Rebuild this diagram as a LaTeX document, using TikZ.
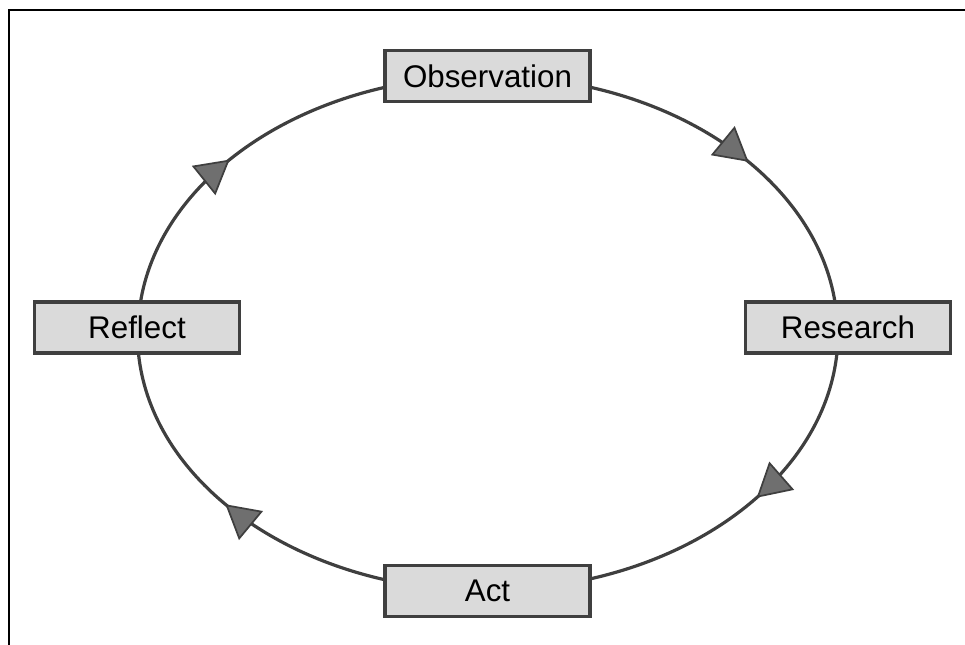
\documentclass[tikz,border=0pt]{standalone}
\usepackage{fontspec}
\setmainfont{Liberation Sans}
\usetikzlibrary{arrows.meta,decorations.markings,backgrounds}

\definecolor{cycleline}{HTML}{3F3F3F}
\definecolor{boxfill}{HTML}{DADADA}
\definecolor{tipfill}{HTML}{6F6F6F}

\tikzset{
  stagebox/.style={draw=cycleline, line width=2.6pt, fill=boxfill,
    minimum width=153.5pt, minimum height=38pt, inner sep=0pt,
    font=\fontsize{23.5pt}{28pt}\selectfont},
  cyclearc/.style={draw=cycleline, line width=2.4pt,
    x radius=350, y radius=257,
    decoration={markings, mark=at position #1 with {\arrow[line width=1.3pt]{Triangle[length=25pt, width=28pt, fill=tipfill]}}},
    postaction={decorate}},
}

\begin{document}
\begin{tikzpicture}[x=0.75pt, y=0.75pt]
  \useasboundingbox (0,0) rectangle (965,645);

  % frame along the top and left edges
  \draw[line width=1.5pt] (9,0) -- (9,635) -- (965,635);

  % stages of the cycle
  \node[stagebox] (obs)  at (487.5,569)  {Observation};
  \node[stagebox] (res)  at (848,317.5)  {Research};
  \node[stagebox] (act)  at (487.5,54)   {Act};
  \node[stagebox] (refl) at (137,317.5)  {Reflect};

  % elliptical cycle, drawn behind the boxes
  \begin{scope}[on background layer]
    \path[cyclearc=0.584] (obs.center) arc[start angle=90, end angle=0];
    \path[cyclearc=0.395] ([shift={(-10,-5.5)}]res.center) arc[start angle=0, end angle=-90];
    \path[cyclearc=0.587] (act.center) arc[start angle=-90, end angle=-180];
    \path[cyclearc=0.423] ([shift={(1,-5.5)}]refl.center) arc[start angle=180, end angle=90];
  \end{scope}
\end{tikzpicture}
\end{document}
